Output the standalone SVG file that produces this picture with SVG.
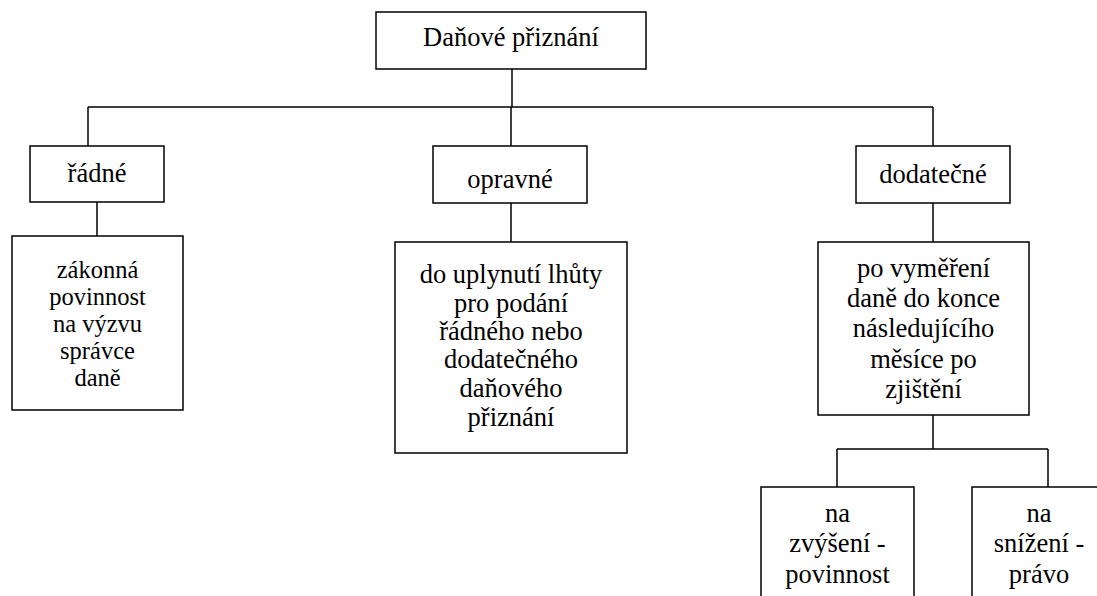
<svg xmlns="http://www.w3.org/2000/svg" width="1097" height="596" viewBox="0 0 1097 596">
<style>
  .box { fill: #fff; stroke: #000; stroke-width: 1.5; }
  .conn { fill: none; stroke: #000; stroke-width: 1.5; }
</style>
<rect width="1097" height="596" fill="#fff"/>
<g id="connectors">
  <path class="conn" d="M512 69 V107 M88 107 H933 M88 107 V146 M511 107 V146 M933 107 V146"/>
  <path class="conn" d="M97 202 V236 M511 203 V242 M933 203 V242"/>
  <path class="conn" d="M933 415 V449 M837 449 H1048 M837 449 V487 M1048 449 V487"/>
</g>
<g font-family="Liberation Serif, DejaVu Serif, serif" font-size="26.5" text-anchor="middle" fill="#000">
<g id="root">
  <rect class="box" x="376" y="12" width="270" height="57"/>
  <text x="511" y="46">Daňové přiznání</text>
</g>
<g id="radne">
  <rect class="box" x="30" y="146" width="134" height="56"/>
  <text x="97" y="182">řádné</text>
</g>
<g id="radne-detail">
  <rect class="box" x="12" y="236" width="171" height="174"/>
  <text font-size="24.5" x="97.5"><tspan x="97.5" y="278">zákonná</tspan><tspan x="97.5" y="305">povinnost</tspan><tspan x="97.5" y="332">na výzvu</tspan><tspan x="97.5" y="359">správce</tspan><tspan x="97.5" y="386">daně</tspan></text>
</g>
<g id="opravne">
  <rect class="box" x="433" y="146" width="154" height="57"/>
  <text x="510" y="188">opravné</text>
</g>
<g id="opravne-detail">
  <rect class="box" x="395" y="242" width="232" height="211"/>
  <text x="511"><tspan x="511" y="283">do uplynutí lhůty</tspan><tspan x="511" y="312">pro podání</tspan><tspan x="511" y="340">řádného nebo</tspan><tspan x="511" y="368">dodatečného</tspan><tspan x="511" y="397">daňového</tspan><tspan x="511" y="426">přiznání</tspan></text>
</g>
<g id="dodatecne">
  <rect class="box" x="856" y="146" width="154" height="57"/>
  <text x="933" y="183">dodatečné</text>
</g>
<g id="dodatecne-detail">
  <rect class="box" x="818" y="242" width="211" height="173"/>
  <text x="923.5"><tspan x="923.5" y="277">po vyměření</tspan><tspan x="923.5" y="307">daně do konce</tspan><tspan x="923.5" y="337">následujícího</tspan><tspan x="923.5" y="368">měsíce po</tspan><tspan x="923.5" y="398">zjištění</tspan></text>
</g>
<g id="zvyseni">
  <rect class="box" x="761" y="487" width="153" height="140"/>
  <text x="837.5"><tspan x="837.5" y="522">na</tspan><tspan x="837.5" y="552">zvýšení -</tspan><tspan x="837.5" y="583">povinnost</tspan></text>
</g>
<g id="snizeni">
  <rect class="box" x="972" y="487" width="152" height="140"/>
  <text x="1039"><tspan x="1039" y="522">na</tspan><tspan x="1039" y="552">snížení -</tspan><tspan x="1039" y="583">právo</tspan></text>
</g>
</g>
</svg>
